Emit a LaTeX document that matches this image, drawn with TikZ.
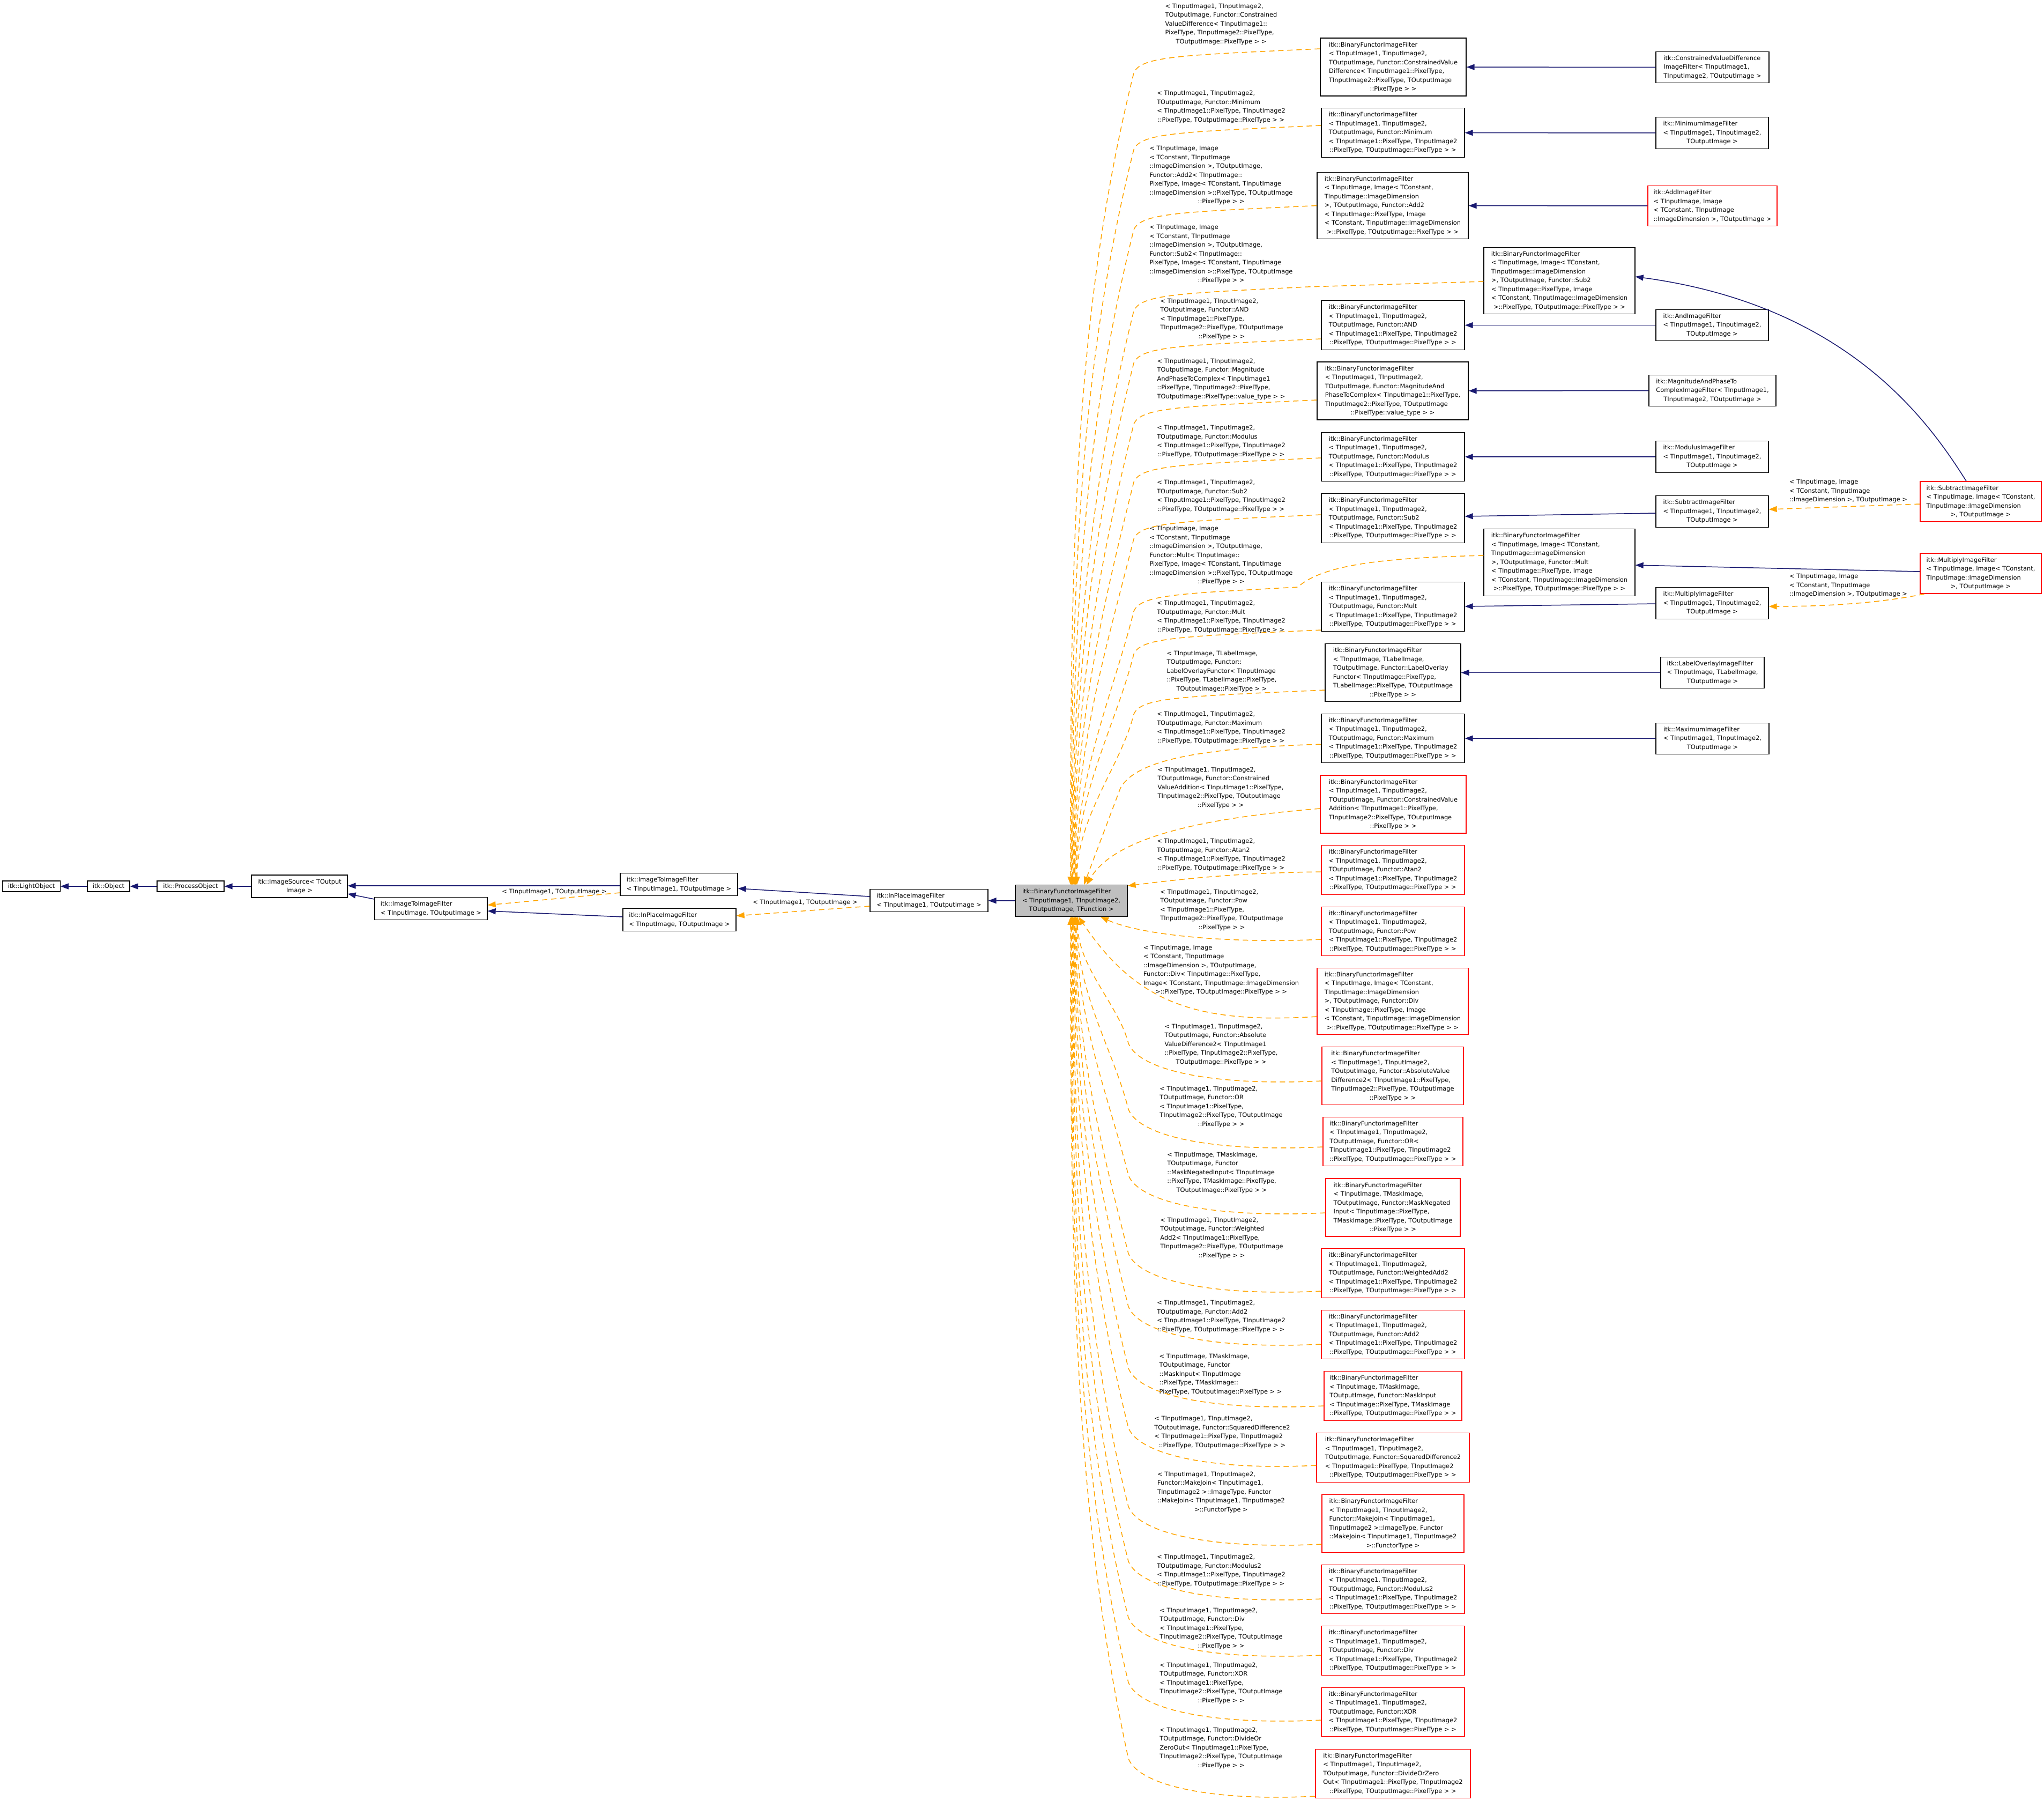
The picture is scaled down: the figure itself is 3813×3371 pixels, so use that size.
\documentclass[tikz,border=0pt]{standalone}
\usepackage{fontspec}
\setmainfont{DejaVu Sans}
\usetikzlibrary{arrows.meta}
\definecolor{navyc}{HTML}{191970}
\definecolor{orangec}{HTML}{FFA500}
\definecolor{redc}{HTML}{FF0000}
\definecolor{grayc}{HTML}{BFBFBF}
\newcommand{\dxl}[2]{\begin{tabular}{@{}l@{}}#1\multicolumn{1}{@{}c@{}}{#2}\end{tabular}}
\newcommand{\bfA}[1]{\dxl{itk::BinaryFunctorImageFilter\\< TInputImage1, TInputImage2,\\TOutputImage, Functor::#1\\< TInputImage1::PixelType, TInputImage2\\}{::PixelType, TOutputImage::PixelType > >}}
\newcommand{\bfC}[1]{\dxl{itk::BinaryFunctorImageFilter\\< TInputImage, Image< TConstant,\\TInputImage::ImageDimension\\>, TOutputImage, Functor::#1\\< TInputImage::PixelType, Image\\< TConstant, TInputImage::ImageDimension\\}{>::PixelType, TOutputImage::PixelType > >}}
\newcommand{\lbA}[1]{\dxl{< TInputImage1, TInputImage2,\\TOutputImage, Functor::#1\\< TInputImage1::PixelType, TInputImage2\\}{::PixelType, TOutputImage::PixelType > >}}
\newcommand{\lbB}[1]{\dxl{< TInputImage1, TInputImage2,\\TOutputImage, Functor::#1\\< TInputImage1::PixelType,\\TInputImage2::PixelType, TOutputImage\\}{::PixelType > >}}
\newcommand{\lbC}[1]{\dxl{< TInputImage, Image\\< TConstant, TInputImage\\::ImageDimension >, TOutputImage,\\Functor::#1< TInputImage::\\PixelType, Image< TConstant, TInputImage\\::ImageDimension >::PixelType, TOutputImage\\}{::PixelType > >}}
% edge from a node above the central node: #1 start, #2 image y of start, #3 image x of end on top of C
\newcommand{\topedge}[3]{%
  \pgfmathsetmacro\eTy{#2+45}%
  \pgfmathsetmacro\eDy{1651-\eTy}%
  \pgfmathsetmacro\eA{0.3*\eDy}%
  \pgfmathsetmacro\eCx{max(#3+5,2115-0.25*\eA)}%
  \pgfmathsetmacro\eCy{\eTy+\eA}%
  \pgfmathsetmacro\eDdy{\eTy+0.6*\eDy}%
  \pgfmathsetmacro\eYa{#2+12}%
  \pgfmathsetmacro\eYb{#2+14}%
  \pgfmathsetmacro\eXs{#3-1998.5}%
  \draw[tmpl] #1 .. controls (2200,\eYa) and (2128,\eYb) .. (2115,\eTy) .. controls (\eCx,\eCy) and (#3,\eDdy) .. ([xshift=\eXs pt]C.north);%
}
% edge from a node below the central node
\newcommand{\botedge}[3]{%
  \pgfmathsetmacro\eTy{#2-70}%
  \pgfmathsetmacro\eDy{\eTy-1709}%
  \pgfmathsetmacro\eA{0.3*\eDy}%
  \pgfmathsetmacro\eCx{max(#3+5,2105-0.25*\eA)}%
  \pgfmathsetmacro\eCy{\eTy-\eA}%
  \pgfmathsetmacro\eDdy{\eTy-0.6*\eDy}%
  \pgfmathsetmacro\eYa{#2+10}%
  \pgfmathsetmacro\eYb{#2-20}%
  \pgfmathsetmacro\eXs{#3-1998.5}%
  \draw[tmpl] #1 .. controls (2260,\eYa) and (2125,\eYb) .. (2105,\eTy) .. controls (\eCx,\eCy) and (#3,\eDdy) .. ([xshift=\eXs pt]C.south);%
}
\tikzset{
  dfont/.style={font=\fontsize{11.4}{16.5}\selectfont},
  cls/.style={dfont, draw=black, line width=1.3pt, fill=white, inner xsep=10pt, inner ysep=4.5pt, minimum width=#1pt},
  clsr/.style={cls=#1, draw=redc},
  clsc/.style={cls=#1, fill=grayc},
  lbl/.style={dfont, inner sep=0pt},
  inh/.style={draw=navyc, line width=1.5pt, -{Triangle[length=15pt,width=11pt]}},
  tmpl/.style={draw=orangec, line width=1.5pt, dash pattern=on 10pt off 7pt, -{Triangle[length=15pt,width=11pt]}},
}
\begin{document}
\begin{tikzpicture}[x=1pt,y=-1pt]
\fill[white] (0,0) rectangle (3813,3371);
\useasboundingbox (0,0) rectangle (3813,3371);
% left chain
\node[cls=105] (LO) at (58.5,1653) {itk::LightObject};
\node[cls=79] (Obj) at (202.5,1653) {itk::Object};
\node[cls=125] (PO) at (355.5,1653) {itk::ProcessObject};
\node[cls=179] (IS) at (558.5,1653) {\dxl{itk::ImageSource< TOutput\\}{Image >}};
\node[cls=210] (IIF0) at (804,1694.5) {\dxl{itk::ImageToImageFilter\\}{< TInputImage, TOutputImage >}};
\node[cls=219] (IIF1) at (1266.5,1649.5) {\dxl{itk::ImageToImageFilter\\}{< TInputImage1, TOutputImage >}};
\node[cls=211] (IPF0) at (1267.5,1715.5) {\dxl{itk::InPlaceImageFilter\\}{< TInputImage, TOutputImage >}};
\node[cls=220] (IPF1) at (1733,1679.5) {\dxl{itk::InPlaceImageFilter\\}{< TInputImage1, TOutputImage >}};
\node[clsc=209] (C) at (1998.5,1680) {\dxl{itk::BinaryFunctorImageFilter\\< TInputImage1, TInputImage2,\\}{TOutputImage, TFunction >}};
% middle column
\node[cls=272] (N1) at (2599,125) {\dxl{itk::BinaryFunctorImageFilter\\< TInputImage1, TInputImage2,\\TOutputImage, Functor::ConstrainedValue\\Difference< TInputImage1::PixelType,\\TInputImage2::PixelType, TOutputImage\\}{::PixelType > >}};
\node[cls=267] (N2) at (2598.5,247.5) {\bfA{Minimum}};
\node[cls=282] (N3) at (2598,383.5) {\bfC{Add2}};
\node[cls=282] (N4) at (2909,523.5) {\bfC{Sub2}};
\node[cls=267] (N5) at (2598.5,606.5) {\bfA{AND}};
\node[cls=282] (N6) at (2598,729) {\dxl{itk::BinaryFunctorImageFilter\\< TInputImage1, TInputImage2,\\TOutputImage, Functor::MagnitudeAnd\\PhaseToComplex< TInputImage1::PixelType,\\TInputImage2::PixelType, TOutputImage\\}{::PixelType::value\_type > >}};
\node[cls=267] (N7) at (2598.5,852) {\bfA{Modulus}};
\node[cls=267] (N8) at (2598.5,966.5) {\bfA{Sub2}};
\node[cls=282] (N9) at (2909,1049) {\bfC{Mult}};
\node[cls=267] (N10) at (2598.5,1131.5) {\bfA{Mult}};
\node[cls=253] (N11) at (2598.5,1254.5) {\dxl{itk::BinaryFunctorImageFilter\\< TInputImage, TLabelImage,\\TOutputImage, Functor::LabelOverlay\\Functor< TInputImage::PixelType,\\TLabelImage::PixelType, TOutputImage\\}{::PixelType > >}};
\node[cls=267] (N12) at (2598.5,1377) {\bfA{Maximum}};
\node[clsr=272] (N13) at (2599,1500) {\dxl{itk::BinaryFunctorImageFilter\\< TInputImage1, TInputImage2,\\TOutputImage, Functor::ConstrainedValue\\Addition< TInputImage1::PixelType,\\TInputImage2::PixelType, TOutputImage\\}{::PixelType > >}};
\node[clsr=267] (N14) at (2598.5,1622.5) {\bfA{Atan2}};
\node[clsr=267] (N15) at (2598.5,1737) {\bfA{Pow}};
\node[clsr=282] (N16) at (2598,1867.5) {\bfC{Div}};
\node[clsr=264] (N17) at (2598,2006.5) {\dxl{itk::BinaryFunctorImageFilter\\< TInputImage1, TInputImage2,\\TOutputImage, Functor::AbsoluteValue\\Difference2< TInputImage1::PixelType,\\TInputImage2::PixelType, TOutputImage\\}{::PixelType > >}};
\node[clsr=261] (N18) at (2598.5,2129) {\dxl{itk::BinaryFunctorImageFilter\\< TInputImage1, TInputImage2,\\TOutputImage, Functor::OR<\\TInputImage1::PixelType, TInputImage2\\}{::PixelType, TOutputImage::PixelType > >}};
\node[clsr=251] (N19) at (2598.5,2252) {\dxl{itk::BinaryFunctorImageFilter\\< TInputImage, TMaskImage,\\TOutputImage, Functor::MaskNegated\\Input< TInputImage::PixelType,\\TMaskImage::PixelType, TOutputImage\\}{::PixelType > >}};
\node[clsr=267] (N20) at (2598.5,2374.5) {\bfA{WeightedAdd2}};
\node[clsr=267] (N21) at (2598.5,2489) {\bfA{Add2}};
\node[clsr=257] (N22) at (2598.5,2603.5) {\dxl{itk::BinaryFunctorImageFilter\\< TInputImage, TMaskImage,\\TOutputImage, Functor::MaskInput\\< TInputImage::PixelType, TMaskImage\\}{::PixelType, TOutputImage::PixelType > >}};
\node[clsr=285] (N23) at (2598.5,2718.5) {\bfA{SquaredDifference2}};
\node[clsr=265] (N24) at (2598.5,2841.5) {\dxl{itk::BinaryFunctorImageFilter\\< TInputImage1, TInputImage2,\\Functor::MakeJoin< TInputImage1,\\TInputImage2 >::ImageType, Functor\\::MakeJoin< TInputImage1, TInputImage2\\}{>::FunctorType >}};
\node[clsr=267] (N25) at (2598.5,2964) {\bfA{Modulus2}};
\node[clsr=267] (N26) at (2598.5,3078.5) {\bfA{Div}};
\node[clsr=267] (N27) at (2598.5,3193) {\bfA{XOR}};
\node[clsr=289] (N28) at (2598.5,3308) {\dxl{itk::BinaryFunctorImageFilter\\< TInputImage1, TInputImage2,\\TOutputImage, Functor::DivideOrZero\\Out< TInputImage1::PixelType, TInputImage2\\}{::PixelType, TOutputImage::PixelType > >}};
% right column
\node[cls=211] (R1) at (3194.5,125.5) {\dxl{itk::ConstrainedValueDifference\\ImageFilter< TInputImage1,\\}{TInputImage2, TOutputImage >}};
\node[cls=210] (R2) at (3194,248) {\dxl{itk::MinimumImageFilter\\< TInputImage1, TInputImage2,\\}{TOutputImage >}};
\node[clsr=241] (R3) at (3194.5,384) {\dxl{itk::AddImageFilter\\< TInputImage, Image\\< TConstant, TInputImage\\}{::ImageDimension >, TOutputImage >}};
\node[cls=210] (R4) at (3194,606.5) {\dxl{itk::AndImageFilter\\< TInputImage1, TInputImage2,\\}{TOutputImage >}};
\node[cls=237] (R5) at (3194.5,728.5) {\dxl{itk::MagnitudeAndPhaseTo\\ComplexImageFilter< TInputImage1,\\}{TInputImage2, TOutputImage >}};
\node[cls=210] (R6) at (3194,852) {\dxl{itk::ModulusImageFilter\\< TInputImage1, TInputImage2,\\}{TOutputImage >}};
\node[cls=210] (R7) at (3194,954) {\dxl{itk::SubtractImageFilter\\< TInputImage1, TInputImage2,\\}{TOutputImage >}};
\node[cls=210] (R8) at (3194,1125) {\dxl{itk::MultiplyImageFilter\\< TInputImage1, TInputImage2,\\}{TOutputImage >}};
\node[clsr=226] (R9) at (3695,935.5) {\dxl{itk::SubtractImageFilter\\< TInputImage, Image< TConstant,\\TInputImage::ImageDimension\\}{>, TOutputImage >}};
\node[clsr=226] (R10) at (3695,1069.5) {\dxl{itk::MultiplyImageFilter\\< TInputImage, Image< TConstant,\\TInputImage::ImageDimension\\}{>, TOutputImage >}};
\node[cls=193] (R11) at (3194.5,1254.5) {\dxl{itk::LabelOverlayImageFilter\\< TInputImage, TLabelImage,\\}{TOutputImage >}};
\node[cls=211] (R12) at (3194.5,1377.5) {\dxl{itk::MaximumImageFilter\\< TInputImage1, TInputImage2,\\}{TOutputImage >}};
% labels
\node[lbl] (L1) at (2278,45) {\dxl{< TInputImage1, TInputImage2,\\TOutputImage, Functor::Constrained\\ValueDifference< TInputImage1::\\PixelType, TInputImage2::PixelType,\\}{TOutputImage::PixelType > >}};
\node[lbl] (L2) at (2278,199) {\lbA{Minimum}};
\node[lbl] (L3) at (2278,327) {\lbC{Add2}};
\node[lbl] (L4) at (2278,474) {\lbC{Sub2}};
\node[lbl] (L5) at (2279,595) {\lbB{AND}};
\node[lbl] (L6) at (2278,707) {\dxl{< TInputImage1, TInputImage2,\\TOutputImage, Functor::Magnitude\\AndPhaseToComplex< TInputImage1\\::PixelType, TInputImage2::PixelType,\\}{TOutputImage::PixelType::value\_type > >}};
\node[lbl] (L7) at (2278,823) {\lbA{Modulus}};
\node[lbl] (L8) at (2278,925) {\lbA{Sub2}};
\node[lbl] (L9) at (2278,1036) {\lbC{Mult}};
\node[lbl] (L10) at (2278,1150) {\lbA{Mult}};
\node[lbl] (L11) at (2279,1252) {\dxl{< TInputImage, TLabelImage,\\TOutputImage, Functor::\\LabelOverlayFunctor< TInputImage\\::PixelType, TLabelImage::PixelType,\\}{TOutputImage::PixelType > >}};
\node[lbl] (L12) at (2278,1357) {\lbA{Maximum}};
\node[lbl] (L13) at (2277,1469) {\dxl{< TInputImage1, TInputImage2,\\TOutputImage, Functor::Constrained\\ValueAddition< TInputImage1::PixelType,\\TInputImage2::PixelType, TOutputImage\\}{::PixelType > >}};
\node[lbl] (L14) at (2278,1594) {\lbA{Atan2}};
\node[lbl] (L15) at (2279,1697) {\lbB{Pow}};
\node[lbl] (L16) at (2278,1809) {\dxl{< TInputImage, Image\\< TConstant, TInputImage\\::ImageDimension >, TOutputImage,\\Functor::Div< TInputImage::PixelType,\\Image< TConstant, TInputImage::ImageDimension\\}{>::PixelType, TOutputImage::PixelType > >}};
\node[lbl] (L17) at (2278,1948) {\dxl{< TInputImage1, TInputImage2,\\TOutputImage, Functor::Absolute\\ValueDifference2< TInputImage1\\::PixelType, TInputImage2::PixelType,\\}{TOutputImage::PixelType > >}};
\node[lbl] (L18) at (2278,2064) {\lbB{OR}};
\node[lbl] (L19) at (2279,2187) {\dxl{< TInputImage, TMaskImage,\\TOutputImage, Functor\\::MaskNegatedInput< TInputImage\\::PixelType, TMaskImage::PixelType,\\}{TOutputImage::PixelType > >}};
\node[lbl] (L20) at (2279,2309) {\dxl{< TInputImage1, TInputImage2,\\TOutputImage, Functor::Weighted\\Add2< TInputImage1::PixelType,\\TInputImage2::PixelType, TOutputImage\\}{::PixelType > >}};
\node[lbl] (L21) at (2278,2455) {\lbA{Add2}};
\node[lbl] (L22) at (2277,2563) {\dxl{< TInputImage, TMaskImage,\\TOutputImage, Functor\\::MaskInput< TInputImage\\::PixelType, TMaskImage::\\}{PixelType, TOutputImage::PixelType > >}};
\node[lbl] (L23) at (2280,2671) {\lbA{SquaredDifference2}};
\node[lbl] (L24) at (2278,2783) {\dxl{< TInputImage1, TInputImage2,\\Functor::MakeJoin< TInputImage1,\\TInputImage2 >::ImageType, Functor\\::MakeJoin< TInputImage1, TInputImage2\\}{>::FunctorType >}};
\node[lbl] (L25) at (2278,2929) {\lbA{Modulus2}};
\node[lbl] (L26) at (2278,3037) {\lbB{Div}};
\node[lbl] (L27) at (2278,3139) {\lbB{XOR}};
\node[lbl] (L28) at (2278,3260) {\dxl{< TInputImage1, TInputImage2,\\TOutputImage, Functor::DivideOr\\ZeroOut< TInputImage1::PixelType,\\TInputImage2::PixelType, TOutputImage\\}{::PixelType > >}};
\node[lbl] (LR9) at (3448,916) {\dxl{< TInputImage, Image\\< TConstant, TInputImage\\}{::ImageDimension >, TOutputImage >}};
\node[lbl] (LR10) at (3448,1092) {\dxl{< TInputImage, Image\\< TConstant, TInputImage\\}{::ImageDimension >, TOutputImage >}};
\node[lbl] (LI) at (1034,1663) {< TInputImage1, TOutputImage >};
\node[lbl] (LP) at (1502,1683) {< TInputImage1, TOutputImage >};
% left edges
\draw[inh] (Obj) -- (LO);
\draw[inh] (PO) -- (Obj);
\draw[inh] (IS) -- (PO);
\draw[inh] ([yshift=-2.5pt]IIF1.west) -- ([yshift=1pt]IS.east);
\draw[inh] ([yshift=17.5pt]IIF0.west) -- ([yshift=-14pt]IS.east);
\draw[inh] ([yshift=5.5pt]IPF0.west) -- ([yshift=-4.5pt]IIF0.east);
\draw[inh] ([yshift=7.5pt]IPF1.west) -- ([yshift=-7.5pt]IIF1.east);
\draw[inh] (C) -- (IPF1);
\draw[tmpl] ([yshift=-15.5pt]IIF1.west) -- ([yshift=6.5pt]IIF0.east);
\draw[tmpl] ([yshift=-10.5pt]IPF1.west) -- ([yshift=7.5pt]IPF0.east);
% right edges
\draw[inh] (R1) -- (N1);
\draw[inh] (R2) -- (N2);
\draw[inh] (R3) -- (N3);
\draw[inh] (R4) -- (N5);
\draw[inh] (R5) -- (N6);
\draw[inh] (R6) -- (N7);
\draw[inh] ([yshift=-3pt]R7.west) -- ([yshift=3.5pt]N8.east);
\draw[inh] ([yshift=-1pt]R8.west) -- ([yshift=0.5pt]N10.east);
\draw[inh] ([yshift=3.5pt]R10.west) -- ([yshift=-5pt]N9.east);
\draw[inh] (R11) -- (N11);
\draw[inh] (R12) -- (N12);
\draw[inh] ([xshift=-27pt]R9.north) .. controls (3600,790) and (3450,570) .. ([yshift=7.5pt]N4.east);
\draw[tmpl] ([yshift=-4.5pt]R9.west) -- ([yshift=4pt]R7.east);
\draw[tmpl] ([xshift=-105pt]R10.south) .. controls (3540,1118) and (3450,1131) .. ([yshift=-6pt]R8.east);
% edges into the central node, from above
\topedge{([yshift=34pt]N1.west)}{91}{1997}
\topedge{([yshift=13.5pt]N2.west)}{234}{1998.2}
\topedge{(N3.west)}{383.5}{1999.4}
\topedge{([yshift=-1.5pt]N4.west) -- (2440,535)}{535}{2000.6}
\topedge{([yshift=-25.5pt]N5.west)}{632}{2001.8}
\topedge{([yshift=-17pt]N6.west)}{746}{2003}
\topedge{([yshift=-2pt]N7.west)}{854}{2004.2}
\topedge{([yshift=6.5pt]N8.west)}{960}{2005.4}
\topedge{([yshift=13pt]N9.west) .. controls (2600,1040) and (2470,1050) .. (2421,1095)}{1095}{2006.6}
\topedge{([yshift=-43.5pt]N10.west)}{1175}{2007.8}
\topedge{([yshift=-32.5pt]N11.west)}{1287}{2009}
\draw[tmpl] ([yshift=-11pt]N12.west) .. controls (2250,1395) and (2120,1415) .. (2090,1470) -- ([xshift=23.5pt]C.north);
\draw[tmpl] ([yshift=-8pt]N13.west) .. controls (2250,1525) and (2080,1560) .. ([xshift=28.5pt]C.north);
\draw[tmpl] ([yshift=-3.5pt]N14.west) .. controls (2300,1628) and (2200,1640) .. ([yshift=-2pt]C.north east);
% from below
\draw[tmpl] ([yshift=-15pt]N15.west) .. controls (2300,1760) and (2130,1745) .. ([xshift=54.5pt]C.south);
\draw[tmpl] ([yshift=-28.5pt]N16.west) .. controls (2230,1910) and (2120,1870) .. ([xshift=13.5pt]C.south);
\botedge{([yshift=-9.5pt]N17.west)}{2016}{2010.2}
\botedge{([yshift=-10pt]N18.west)}{2139}{2009}
\botedge{([yshift=-10pt]N19.west)}{2262}{2007.8}
\botedge{([yshift=-33.5pt]N20.west)}{2408}{2006.6}
\botedge{([yshift=-18pt]N21.west)}{2507}{2005.4}
\botedge{([yshift=-18.5pt]N22.west)}{2622}{2004.2}
\botedge{([yshift=-14.5pt]N23.west)}{2733}{2003}
\botedge{([yshift=-38.5pt]N24.west)}{2880}{2001.8}
\botedge{([yshift=-18pt]N25.west)}{2982}{2000.6}
\botedge{([yshift=-8.5pt]N26.west)}{3087}{1999.4}
\botedge{([yshift=-15pt]N27.west)}{3208}{1998.2}
\botedge{([yshift=-42pt]N28.west)}{3350}{1997}
\end{tikzpicture}
\end{document}
